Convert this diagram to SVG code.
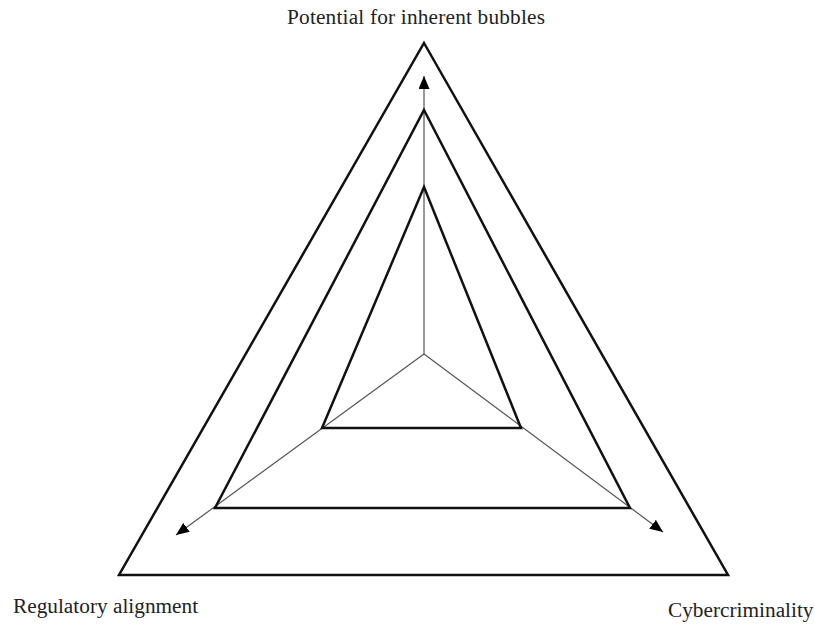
<svg xmlns="http://www.w3.org/2000/svg" width="815" height="625" viewBox="0 0 815 625">
<style>
.tri{fill:none;stroke:#111;stroke-width:2.5;stroke-linejoin:miter}
.ax{stroke:#555;stroke-width:1.2;fill:none}
.lbl{font-family:"Liberation Serif","DejaVu Serif",serif;font-size:21.3px;fill:#222}
</style>
<defs>
<marker id="ah" viewBox="0 0 13 11" refX="13" refY="5.5" markerWidth="13" markerHeight="11" markerUnits="userSpaceOnUse" orient="auto">
<path d="M0,0 L13,5.5 L0,11 Z" fill="#000"/>
</marker>
</defs>
<rect width="815" height="625" fill="#fff"/>
<g id="connectors">
<line class="ax" x1="424" y1="354" x2="424" y2="76" marker-end="url(#ah)"/>
<line class="ax" x1="424" y1="354" x2="176" y2="535" marker-end="url(#ah)"/>
<line class="ax" x1="424" y1="354" x2="663" y2="532" marker-end="url(#ah)"/>
</g>
<g id="outer"><polygon class="tri" points="424,43 728,575 119,575"/></g>
<g id="middle"><polygon class="tri" points="424,110 630,508 215,508"/></g>
<g id="inner"><polygon class="tri" points="424,187 521,428 322,428"/></g>
<g id="label-top"><text class="lbl" x="416" y="24" text-anchor="middle" textLength="258" lengthAdjust="spacing">Potential for inherent bubbles</text></g>
<g id="label-left"><text class="lbl" x="13" y="613">Regulatory alignment</text></g>
<g id="label-right"><text class="lbl" x="668" y="617">Cybercriminality</text></g>
</svg>
